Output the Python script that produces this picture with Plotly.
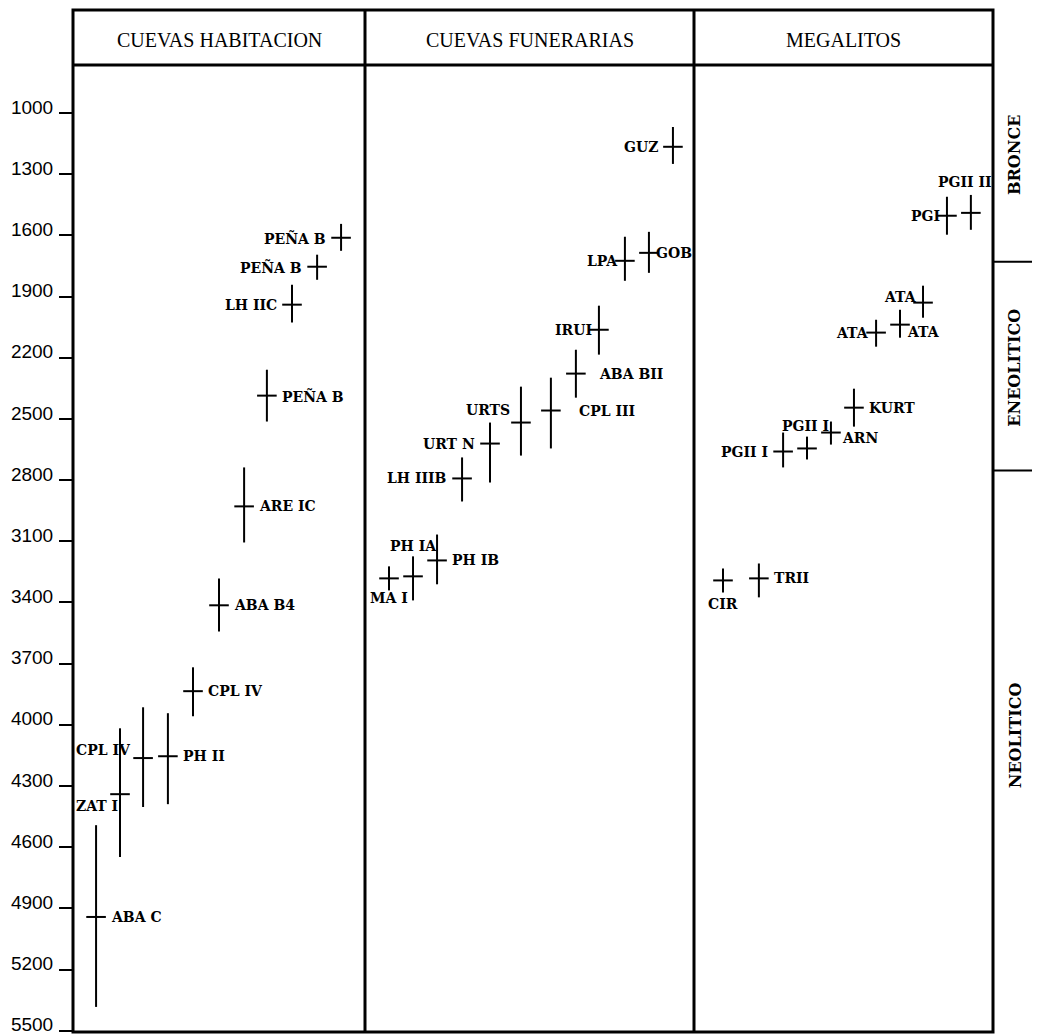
import plotly.graph_objects as go

# ---------------- data (years scale as in original) ----------------
YEAR_TICKS = list(range(1000, 5501, 300))

# CUEVAS HABITACION
hab_labels = ["PEÑA B", "PEÑA B", "LH IIC", "PEÑA B", "ARE IC", "ABA B4",
              "CPL IV", "CPL IV", "PH II", "ZAT I", "ABA C"]
hab_pos = [91.8, 83.6, 75.0, 66.4, 58.6, 50.0, 41.1, 24.0, 32.5, 16.1, 7.9]
hab_date = [1612, 1754, 1940, 2386, 2929, 3414, 3835, 4163, 4154, 4340, 4942]
hab_min = [1544, 1695, 1842, 2259, 2738, 3282, 3718, 3914, 3943, 4017, 4492]
hab_max = [1676, 1818, 2028, 2513, 3106, 3542, 3958, 4403, 4389, 4648, 5383]
hab_side = ["L", "L", "L", "R", "R", "R", "R", "LU", "R", "LD", "R"]

# CUEVAS FUNERARIAS
fun_labels = ["GUZ", "LPA", "GOB", "IRUI", "ABA BII", "CPL III", "URTS",
              "URT N", "LH IIIB", "PH IB", "PH IA", "MA I"]
fun_pos = [93.6, 79.0, 86.3, 71.1, 64.1, 56.5, 47.4, 38.0, 29.5, 21.9, 14.6, 7.3]
fun_date = [1166, 1725, 1686, 2063, 2278, 2459, 2518, 2621, 2792, 3194, 3272, 3282]
fun_min = [1069, 1607, 1583, 1945, 2161, 2298, 2342, 2518, 2689, 3067, 3174, 3223]
fun_max = [1250, 1823, 1784, 2185, 2396, 2645, 2680, 2812, 2905, 3311, 3390, 3341]
fun_side = ["L", "l", "r", "l", "RR", "RRR", "LUU", "L", "L", "R", "T", "B"]

# MEGALITOS
meg_labels = ["PGII II", "PGI", "ATA", "ATA", "ATA", "KURT", "ARN",
              "PGII I", "PGII I", "CIR", "TRII"]
meg_pos = [92.6, 84.6, 76.6, 68.9, 60.9, 53.5, 45.8, 37.8, 29.8, 9.7, 21.7]
meg_date = [1490, 1504, 1930, 2038, 2077, 2445, 2567, 2645, 2660, 3292, 3282]
meg_min = [1402, 1411, 1847, 1965, 2014, 2352, 2513, 2587, 2567, 3233, 3209]
meg_max = [1573, 1597, 2004, 2102, 2146, 2538, 2626, 2699, 2738, 3351, 3375]
meg_side = ["Tl", "l", "lU", "rD", "l", "R", "RD", "Ts", "L", "Bb", "R"]

panel_titles = ["CUEVAS HABITACION", "CUEVAS FUNERARIAS", "MEGALITOS"]
periods = ["BRONCE", "ENEOLITICO", "NEOLITICO"]
period_bounds = [1730, 2753]
period_centers = [1206, 2249, 4051]

# ---------------- styling / layout ----------------
# the page body adds an 8px offset; figure is sized so the plot lands where intended
W, H = 1032, 1028
ML, MR, MT, MB = 65, 47, 57, 4
PW = W - ML - MR
PH = H - MT - MB
panel_edges = [0, 292, 621, 920]  # panel boundaries, px from plot left
doms = [(panel_edges[i] / PW, panel_edges[i + 1] / PW) for i in range(3)]
Y_RANGE = [5506, 765]
HEADER_TOP = 1 + 55 / PH

OFFS = {
    "L": ("right", -13, 0), "l": ("right", -5, 0),
    "R": ("left", 13, 0), "r": ("left", 5, 0),
    "RR": ("left", 21, 0), "RRR": ("left", 26, 0),
    "T": ("center", 0, 30), "Tl": ("center", -6, 31), "Ts": ("center", -2, 22),
    "B": ("center", 0, -20), "Bb": ("center", 0, -24),
    "LU": ("right", -10, 8), "LUU": ("right", -9, 13), "LD": ("right", 0, -12),
    "lU": ("right", -4, 6), "rD": ("left", 5, -7), "RD": ("left", 9, -5),
}

LABEL_FONT = dict(family="DejaVu Serif", size=14, color="black", weight="bold")

fig = go.Figure()
annotations = []

panels = [
    (hab_labels, hab_pos, hab_date, hab_min, hab_max, hab_side),
    (fun_labels, fun_pos, fun_date, fun_min, fun_max, fun_side),
    (meg_labels, meg_pos, meg_date, meg_min, meg_max, meg_side),
]

for i, (labs, pos, dates, mins, maxs, sides) in enumerate(panels):
    xname = "x" if i == 0 else f"x{i + 1}"
    fig.add_trace(go.Scatter(
        x=pos, y=dates, mode="markers", xaxis=xname, yaxis="y",
        marker=dict(symbol="line-ew", size=14, color="black",
                    line=dict(width=2, color="black")),
        error_y=dict(type="data", symmetric=False,
                     array=[mx - d for mx, d in zip(maxs, dates)],
                     arrayminus=[d - mn for mn, d in zip(mins, dates)],
                     width=0, thickness=2, color="black"),
        hoverinfo="skip", showlegend=False,
    ))
    for lab, xp, d, sd in zip(labs, pos, dates, sides):
        xa, xs, ys = OFFS[sd]
        annotations.append(dict(
            x=xp, y=d, xref=xname, yref="y", text=lab, showarrow=False,
            xanchor=xa, yanchor="middle", xshift=xs, yshift=ys, font=LABEL_FONT,
        ))
    annotations.append(dict(
        x=(doms[i][0] + doms[i][1]) / 2, y=1 + 25 / PH, xref="paper", yref="paper",
        text=panel_titles[i], showarrow=False, xanchor="center", yanchor="middle",
        font=dict(family="Liberation Serif", size=20, color="black"),
    ))

for name, yc in zip(periods, period_centers):
    annotations.append(dict(
        x=1 + 22 / PW, y=yc, xref="paper", yref="y", text=name, showarrow=False,
        textangle=-90, xanchor="center", yanchor="middle",
        font=dict(family="DejaVu Serif", size=16, color="black", weight="bold"),
    ))

shapes = []
LINE = dict(color="black", width=3)
shapes.append(dict(type="rect", xref="paper", yref="paper", x0=0, x1=1, y0=0,
                   y1=HEADER_TOP, line=LINE))
shapes.append(dict(type="line", xref="paper", yref="paper", x0=0, x1=1, y0=1, y1=1,
                   line=LINE))
for i in (1, 2):
    shapes.append(dict(type="line", xref="paper", yref="paper", x0=doms[i][0],
                       x1=doms[i][0], y0=0, y1=HEADER_TOP, line=LINE))
for yb in period_bounds:
    shapes.append(dict(type="line", xref="paper", yref="y", x0=1, x1=1 + (MR + 8) / PW,
                       y0=yb, y1=yb, line=dict(color="black", width=2)))

layout = dict(
    width=W, height=H,
    margin=dict(l=ML, r=MR, t=MT, b=MB, pad=0),
    paper_bgcolor="white", plot_bgcolor="white",
    showlegend=False,
    yaxis=dict(range=Y_RANGE, tickvals=YEAR_TICKS, ticktext=[str(v) for v in YEAR_TICKS],
               ticks="outside", ticklen=13, tickwidth=1.5, tickcolor="black",
               showgrid=False, zeroline=False, showline=False, automargin=False,
               tickfont=dict(family="Liberation Sans", size=19, color="black"),
               ticklabelshift=6, ticklabelstandoff=2),
    annotations=annotations, shapes=shapes,
)
for i in range(3):
    key = "xaxis" if i == 0 else f"xaxis{i + 1}"
    layout[key] = dict(domain=list(doms[i]), range=[0, 100], visible=False,
                       anchor="y", fixedrange=True)
fig.update_layout(**layout)

fig.write_html("out.html")
